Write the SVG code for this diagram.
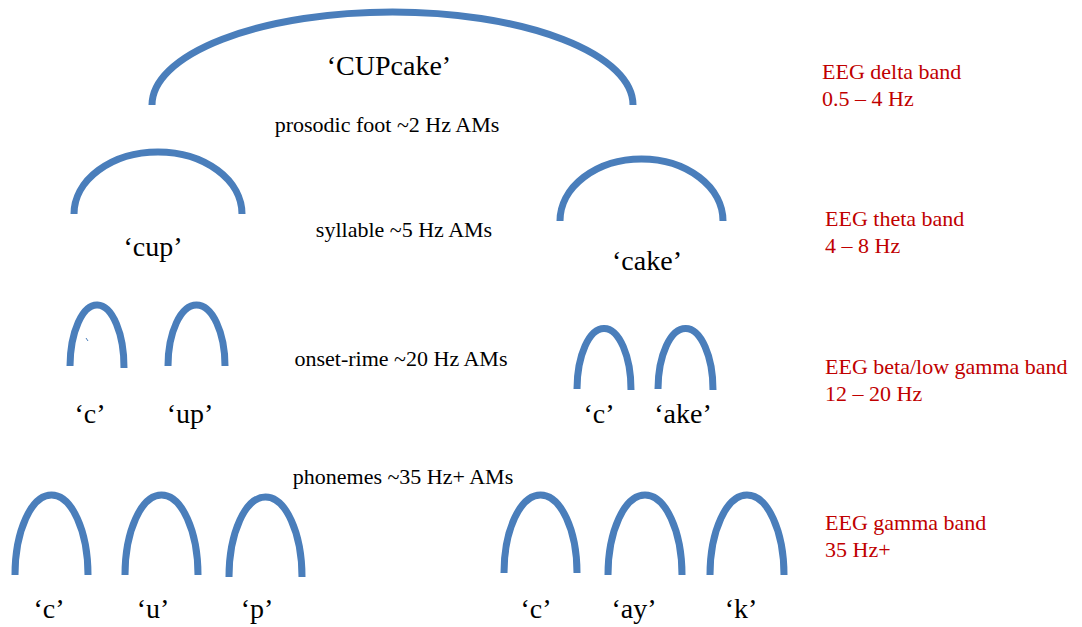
<svg xmlns="http://www.w3.org/2000/svg" width="1082" height="627" viewBox="0 0 1082 627">
<style>
.arc{fill:none;stroke:#4a7ebb;stroke-width:7}
.big{font-family:"Liberation Serif","Times New Roman",serif;font-size:28px;fill:#000;text-anchor:middle}
.lab{font-family:"Liberation Serif","Times New Roman",serif;font-size:22px;fill:#000;text-anchor:middle}
.eeg{font-family:"Liberation Serif","Times New Roman",serif;font-size:22px;fill:#c00000}
</style>
<rect width="1082" height="627" fill="#fff"/>
<g id="connectors">
<path class="arc" d="M152,105 A240.5,93 0 0 1 633,105"/>
<path class="arc" d="M74,214 A84,62 0 0 1 242,214"/>
<path class="arc" d="M560,221 A81.5,62 0 0 1 723,221"/>
<path class="arc" d="M70,366 A27,62 0 0 1 124,368"/>
<path class="arc" d="M168,366 A28.5,61 0 0 1 225,366"/>
<path class="arc" d="M577,389 A27,61 0 0 1 631,390"/>
<path class="arc" d="M658,389 A27.5,61 0 0 1 713,390"/>
<path d="M86,338 L88,341" stroke="#4a7ebb" stroke-width="1" fill="none"/>
<path class="arc" d="M15,575 A36.5,80 0 0 1 88,575"/>
<path class="arc" d="M125,575 A36.5,80 0 0 1 198,575"/>
<path class="arc" d="M229,577 A36.5,80 0 0 1 302,577"/>
<path class="arc" d="M504,573 A36.5,78 0 0 1 577,573"/>
<path class="arc" d="M608,575 A37,80 0 0 1 682,575"/>
<path class="arc" d="M710,575 A37,80 0 0 1 784,575"/>
</g>
<g id="node-cupcake"><text class="big" x="389" y="75">‘CUPcake’</text></g>
<g id="node-cup"><text class="big" x="153" y="256">‘cup’</text></g>
<g id="node-cake"><text class="big" x="647" y="270">‘cake’</text></g>
<g id="node-c1"><text class="big" x="90" y="423">‘c’</text></g>
<g id="node-up"><text class="big" x="190" y="423">‘up’</text></g>
<g id="node-c2"><text class="big" x="599" y="423">‘c’</text></g>
<g id="node-ake"><text class="big" x="683" y="423">‘ake’</text></g>
<g id="node-p-c1"><text class="big" x="49" y="618">‘c’</text></g>
<g id="node-p-u"><text class="big" x="153" y="618">‘u’</text></g>
<g id="node-p-p"><text class="big" x="257" y="618">‘p’</text></g>
<g id="node-p-c2"><text class="big" x="536" y="618">‘c’</text></g>
<g id="node-p-ay"><text class="big" x="634" y="618">‘ay’</text></g>
<g id="node-p-k"><text class="big" x="741" y="618">‘k’</text></g>
<g id="level-labels">
<text class="lab" x="387" y="132">prosodic foot ~2 Hz AMs</text>
<text class="lab" x="404" y="237">syllable ~5 Hz AMs</text>
<text class="lab" x="401" y="366">onset-rime ~20 Hz AMs</text>
<text class="lab" x="403" y="484">phonemes ~35 Hz+ AMs</text>
</g>
<g id="eeg-delta"><text class="eeg" x="822" y="79">EEG delta band</text><text class="eeg" x="822" y="106">0.5 – 4 Hz</text></g>
<g id="eeg-theta"><text class="eeg" x="825" y="226">EEG theta band</text><text class="eeg" x="825" y="253">4 – 8 Hz</text></g>
<g id="eeg-beta"><text class="eeg" x="825" y="374">EEG beta/low gamma band</text><text class="eeg" x="825" y="401">12 – 20 Hz</text></g>
<g id="eeg-gamma"><text class="eeg" x="825" y="530">EEG gamma band</text><text class="eeg" x="825" y="557">35 Hz+</text></g>
</svg>
